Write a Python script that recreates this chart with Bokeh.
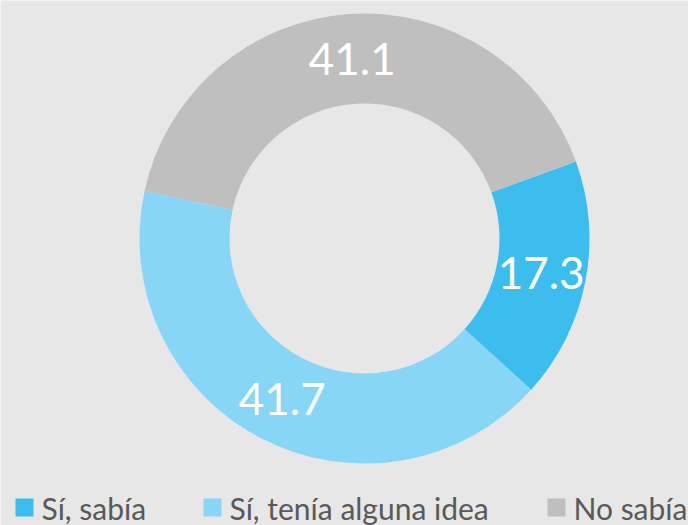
import numpy as np
from bokeh.plotting import figure
from bokeh.models import Range1d, ColumnDataSource
from bokeh.core.properties import value
from bokeh.embed import file_html
from bokeh.resources import INLINE

categories = ["Sí, sabía", "Sí, tenía alguna idea", "No sabía"]
values = [17.3, 41.7, 41.1]
labels = ["17.3", "41.7", "41.1"]
colors = ["#3BBDEE", "#88D6F5", "#BFBFBF"]

W, H = 688, 525
BG = "#E7E7E7"
p = figure(width=W, height=H, x_range=Range1d(0, W), y_range=Range1d(0, H),
           output_backend="svg", toolbar_location=None, min_border=0)
p.axis.visible = False
p.grid.visible = False
p.outline_line_color = None
p.background_fill_color = BG
p.border_fill_color = BG

cx, cy = 364, H - 238
r_in, r_out = 135, 225
start_deg = 20
frac = np.array(values) / sum(values)
cum = np.concatenate([[0], np.cumsum(frac)])
starts = np.radians(start_deg - cum[:-1] * 360)
ends = np.radians(start_deg - cum[1:] * 360)
mid = (starts + ends) / 2
r_lab = (r_in + r_out) / 2

src = ColumnDataSource(dict(start=starts, end=ends, color=colors, label=labels,
                            lx=cx + r_lab * np.cos(mid), ly=cy + r_lab * np.sin(mid)))
p.annular_wedge(x=cx, y=cy, inner_radius=r_in, outer_radius=r_out,
                start_angle="start", end_angle="end", direction="clock",
                fill_color="color", line_color=None, source=src)
p.text(x="lx", y="ly", text="label", source=src, text_color="white",
       text_font=value("Lato"), text_font_size="44px",
       text_align="center", text_baseline="middle")

# legend (manual)
leg_sq_x = [24, 212, 556]
leg = ColumnDataSource(dict(x=leg_sq_x, tx=[v + 17 for v in leg_sq_x], name=categories, color=colors))
p.rect(x="x", y=H - 507, width=18, height=18, fill_color="color", line_color=None, source=leg)
p.text(x="tx", y=H - 507.5, text="name", source=leg, text_color="#595959",
       text_font=value("Lato"), text_font_size="30px",
       text_align="left", text_baseline="middle")

open("out.html", "w").write(file_html(p, INLINE))
